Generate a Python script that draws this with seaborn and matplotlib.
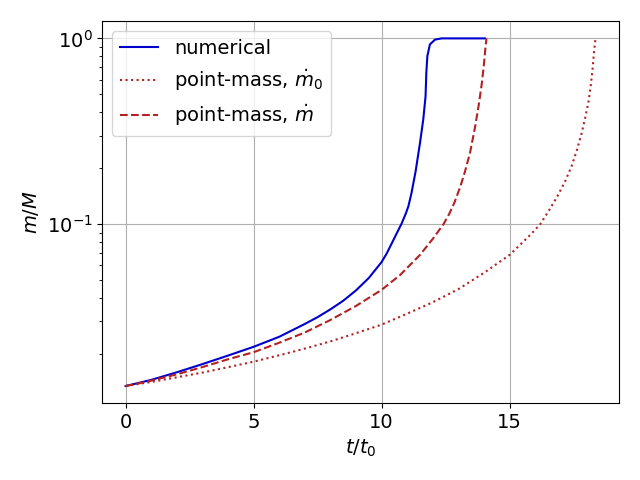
import numpy as np
import pandas as pd
import matplotlib
matplotlib.use("Agg")
import matplotlib.pyplot as plt
import seaborn as sns

# values (t/t0, m/M)
t_num = [0.0, 1.0, 2.0, 3.0, 4.0, 5.0, 6.0, 7.0, 7.5, 8.0, 8.5, 9.0, 9.5, 10.0,
         10.2, 10.4, 10.6, 10.78, 10.95, 11.05, 11.17, 11.33, 11.50, 11.63, 11.72,
         11.75, 11.79, 11.89, 12.09, 12.35, 14.04]
m_num = [0.01346, 0.01452, 0.01596, 0.01766, 0.01963, 0.02188, 0.02477, 0.02904,
         0.0316, 0.0348, 0.0387, 0.0440, 0.0513, 0.0625, 0.0695, 0.0789, 0.0897,
         0.1005, 0.1143, 0.125, 0.147, 0.192, 0.272, 0.366, 0.488, 0.653, 0.803,
         0.928, 0.985, 1.0, 1.0]

t_pm0 = [0.0, 1.0, 2.0, 3.0, 4.0, 5.0, 6.0, 7.0, 8.0, 9.0, 10.0, 11.0, 12.0, 13.0,
         14.0, 15.0, 15.81, 16.2, 16.55, 16.89, 17.18, 17.43, 17.64, 17.81, 17.96,
         18.09, 18.18, 18.25, 18.30, 18.36]
m_pm0 = [0.01346, 0.01416, 0.0150, 0.0159, 0.0170, 0.0182, 0.0197, 0.0214, 0.0234,
         0.0259, 0.0288, 0.0330, 0.0380, 0.0447, 0.0547, 0.0683, 0.0875, 0.100,
         0.119, 0.143, 0.171, 0.206, 0.252, 0.306, 0.375, 0.459, 0.565, 0.695,
         0.843, 1.0]

t_pm = [0.0, 1.0, 2.0, 3.0, 4.0, 5.0, 6.0, 7.0, 8.0, 9.0, 10.0, 10.72, 11.5, 12.02,
        12.42, 12.65, 12.85, 13.07, 13.26, 13.46, 13.65, 13.79, 13.92, 14.00, 14.06,
        14.10]
m_pm = [0.01346, 0.01439, 0.01556, 0.01702, 0.01875, 0.02046, 0.02301, 0.02612,
        0.0305, 0.0363, 0.0443, 0.0532, 0.0683, 0.084, 0.100, 0.114, 0.131, 0.158,
        0.192, 0.243, 0.331, 0.431, 0.575, 0.724, 0.891, 1.0]

plt.rcParams['font.size'] = 14

fig, ax = plt.subplots(figsize=(6.4, 4.8), dpi=100)
sns.lineplot(x=t_num, y=m_num, ax=ax, color='mediumblue', label='numerical')
sns.lineplot(x=t_pm0, y=m_pm0, ax=ax, color='firebrick', linestyle=':',
             label=r'point-mass, $\dot{m}_0$')
sns.lineplot(x=t_pm, y=m_pm, ax=ax, color='firebrick', linestyle='--',
             label=r'point-mass, $\dot{m}$')
ax.set_yscale('log')
ax.grid(True)
ax.set_xlabel(r'$t/t_0$')
ax.set_ylabel(r'$m/M$')
ax.legend(loc='upper left')
fig.tight_layout()
fig.savefig('out.png')
